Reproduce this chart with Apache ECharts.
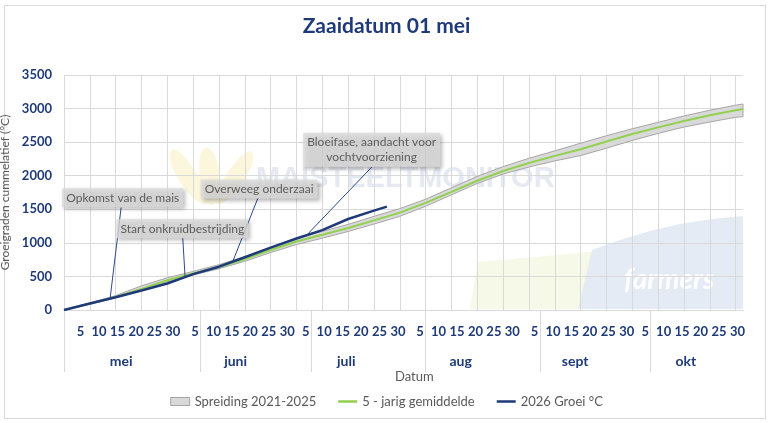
<!DOCTYPE html>
<html><head><meta charset="utf-8">
<script src="https://cdn.jsdelivr.net/npm/echarts@6/dist/echarts.min.js"></script>
<style>
html,body{margin:0;padding:0;background:#fff;}
#frame{position:absolute;left:4px;top:5px;width:762px;height:414px;border:1px solid #d9d9d9;box-sizing:border-box;}
#chart{position:absolute;left:0;top:0;width:773px;height:423px;}
</style></head><body>
<div id="frame"></div>
<div id="chart"></div>
<script>
// ---- data ----
const sampleDays = [0,7,14,21,28,35,42,49,56,63,70,77,84,91,98,105,112,119,126,133,140,147,154,161,168,175,182,184];
const avg5yr     = [0,95,193,315,442,545,641,757,893,1020,1120,1222,1335,1450,1595,1760,1925,2070,2190,2295,2395,2510,2620,2720,2815,2900,2975,2995];
const spreadLow  = [0,85,180,295,420,520,615,725,855,975,1070,1170,1280,1395,1545,1715,1885,2025,2130,2220,2300,2410,2525,2630,2725,2800,2870,2880];
const spreadHigh = [0,105,215,360,480,575,675,795,935,1065,1170,1275,1395,1510,1650,1820,1990,2135,2260,2370,2485,2595,2700,2795,2890,2975,3050,3068];
const growth2026Days = [0,7,14,21,28,35,42,49,56,63,70,77,84,87.5];
const growth2026     = [0,97,190,290,395,535,645,785,930,1065,1190,1355,1480,1539];

const months = ['mei','juni','juli','aug','sept','okt'];
const monthLengths = [31,30,31,31,30,31];
const dayTickNumbers = [5,10,15,20,25,30];
const yMin = 0, yMax = 3500, yInterval = 500;

const annotationTexts  = ['Opkomst van de mais','Start onkruidbestrijding','Overweeg onderzaai','Bloeifase, aandacht voor\nvochtvoorziening'];
const annotationDays   = [12.5, 32.8, 45.7, 65.8];
const annotationValues = [176, 500, 719, 1117];

// ---- layout / derived ----
const calloutOffsets = [[12.6,-100.4],[-2.7,-47.7],[26.5,-72.7],[64.8,-85.2]];   // label centre relative to point (px)
const leaderEnds     = [[11,-90.7],[-2.3,-38.7],[25.3,-63.7],[65,-68]];           // leader end relative to point (px)
const totalDays = monthLengths.reduce((a,b)=>a+b,0);
const monthStarts = [];
{ let s = 0; monthLengths.forEach(l => { monthStarts.push(s); s += l; }); }
const dayTickValues = [], dayTickText = {};
monthStarts.forEach((s, m) => dayTickNumbers.forEach(d => {
  if (d <= monthLengths[m]) { const v = s + d - 0.5; dayTickValues.push(v); dayTickText[v] = String(d); }
}));
const monthLabelValues = [], monthLabelText = {};
monthStarts.forEach((s, m) => { const v = s + Math.floor(monthLengths[m]/2) + 0.5; monthLabelValues.push(v); monthLabelText[v] = months[m]; });
const separatorValues = monthStarts.map((s, i) => i === 0 ? 0 : s + 6);

const pairs = (xs, ys) => xs.map((x, i) => [x, ys[i]]);
const navy = '#1f3a78';
const gridGray = '#d9d9d9';
const font = 'Lato';
const lineIcon = 'path://M0,0h0.01v0.01h-0.01z M0,2.8h20v2.4h-20z M0,7.99h0.01v0.01h-0.01z';
const leaf = '#fbf6dc';

const chart = echarts.init(document.getElementById('chart'), null, {renderer: 'canvas'});
chart.setOption({
  animation: false,
  textStyle: {fontFamily: font},
  title: [
    {text: 'Zaaidatum 01 mei', left: 'center', top: 16, padding: 0,
     textStyle: {fontFamily: font, fontSize: 21, fontWeight: 'bold', color: navy}},
    {text: 'Datum', left: 395, top: 370, padding: 0,
     textStyle: {fontFamily: font, fontSize: 13, fontWeight: 'normal', color: '#595959'}}
  ],
  graphic: [
    {type: 'polygon', z: -10, silent: true, shape: {points: [[478,262],[612,250],[602,309],[470,309]]}, style: {fill: '#f6f9e8'}},
    {type: 'polygon', z: -9, silent: true, shape: {points: [[592,250],[620,240],[650,231],[680,224],[712,219],[743,216],[743,309],[578,309]]}, style: {fill: '#e5ebf5'}},
    {type: 'text', z: -8, silent: true, x: 624, y: 266, style: {text: 'farmers', fill: '#ffffff', font: 'italic bold 28px Lato'}},
    {type: 'polygon', z: -8, silent: true, shape: {points: [[212,205],[200,178],[206,148],[220,175]], smooth: 0.6}, style: {fill: leaf}},
    {type: 'polygon', z: -8, silent: true, shape: {points: [[208,203],[182,185],[172,150],[196,172]], smooth: 0.6}, style: {fill: leaf}},
    {type: 'polygon', z: -8, silent: true, shape: {points: [[216,203],[240,186],[252,152],[228,172]], smooth: 0.6}, style: {fill: leaf}},
    {type: 'text', z: -7, silent: true, x: 256, y: 164, style: {text: 'MAISTEELTMONITOR', fill: '#e5e9f2', font: 'bold 29px "Liberation Sans"'}}
  ],
  legend: {
    top: 390, left: 'center', itemWidth: 19, itemHeight: 8, itemGap: 22,
    textStyle: {color: '#595959', fontSize: 13, fontFamily: font},
    data: [
      {name: 'Spreiding 2021-2025', icon: 'rect', itemStyle: {color: '#d9d9d9', borderColor: '#a6a6a6', borderWidth: 1}},
      {name: '5 - jarig gemiddelde', icon: lineIcon},
      {name: '2026 Groei °C', icon: lineIcon}
    ]
  },
  grid: {left: 64, right: 30, top: 75, bottom: 113, containLabel: false, outerBoundsMode: 'none'},
  xAxis: [
    {type: 'value', min: 0, max: totalDays, interval: 7,
     axisLine: {show: true, lineStyle: {color: gridGray}}, axisTick: {show: false}, axisLabel: {show: false},
     splitLine: {show: true, showMaxLine: false, lineStyle: {color: gridGray, width: 1}}},
    {type: 'value', min: 0, max: totalDays, position: 'bottom',
     axisLine: {show: false}, axisTick: {show: false}, splitLine: {show: false},
     axisLabel: {show: true, customValues: dayTickValues, formatter: v => dayTickText[v] || '', margin: 15,
       color: navy, fontWeight: 'bold', fontSize: 13, fontFamily: font}},
    {type: 'value', min: 0, max: totalDays, position: 'bottom',
     axisLine: {show: false}, splitLine: {show: false},
     axisTick: {show: true, customValues: separatorValues, length: 62, lineStyle: {color: gridGray, width: 1}},
     axisLabel: {show: true, customValues: monthLabelValues, formatter: v => monthLabelText[v] || '', margin: 44,
       color: navy, fontWeight: 'bold', fontSize: 14, fontFamily: font}}
  ],
  yAxis: {
    type: 'value', min: yMin, max: yMax, interval: yInterval,
    name: 'Groeigraden cummelatief (°C)', nameLocation: 'middle', nameGap: 51,
    nameTextStyle: {color: '#595959', fontSize: 12, fontFamily: font},
    axisLine: {show: false}, axisTick: {show: false},
    axisLabel: {color: navy, fontWeight: 'bold', fontSize: 13, margin: 12, fontFamily: font, formatter: v => String(v)},
    splitLine: {lineStyle: {color: gridGray, width: 1}}
  },
  series: [
    {type: 'custom', name: 'Spreiding 2021-2025', z: 2, silent: true,
     data: sampleDays.map((d, i) => [d, spreadLow[i], spreadHigh[i]]),
     encode: {x: 0, y: [1, 2]},
     itemStyle: {color: '#d9d9d9'},
     renderItem: (params, api) => {
       if (params.dataIndex !== 0) return null;
       const top = sampleDays.map((d, i) => api.coord([d, spreadHigh[i]]));
       const bot = sampleDays.map((d, i) => api.coord([d, spreadLow[i]])).reverse();
       return {type: 'polygon', shape: {points: top.concat(bot)},
               style: {fill: '#d9d9d9', stroke: '#a6a6a6', lineWidth: 1}};
     }},
    {type: 'line', name: '5 - jarig gemiddelde', data: pairs(sampleDays, avg5yr), symbol: 'none',
     lineStyle: {color: '#92d050', width: 2}, itemStyle: {color: '#92d050'}, z: 4},
    {type: 'line', name: '2026 Groei °C', data: pairs(growth2026Days, growth2026), symbol: 'none',
     lineStyle: {color: navy, width: 2.5}, itemStyle: {color: navy}, z: 5},
    {type: 'custom', name: 'leaders', z: 6, silent: true,
     data: pairs(annotationDays, annotationValues), encode: {x: 0, y: 1},
     renderItem: (params, api) => {
       const p = api.coord([api.value(0), api.value(1)]);
       const o = leaderEnds[params.dataIndex];
       return {type: 'line', shape: {x1: p[0], y1: p[1], x2: p[0] + o[0], y2: p[1] + o[1]},
               style: {stroke: '#2b4a8c', lineWidth: 1}};
     }},
    {type: 'scatter', name: 'annotations', data: pairs(annotationDays, annotationValues), symbolSize: 0.1,
     itemStyle: {color: navy}, z: 7, silent: true,
     label: {show: true, position: 'inside', formatter: p => annotationTexts[p.dataIndex],
       color: '#404040', fontSize: 12, lineHeight: 15, fontFamily: font, align: 'center',
       backgroundColor: '#d9d9d9', padding: [2, 4],
       shadowColor: 'rgba(0,0,0,0.35)', shadowBlur: 4, shadowOffsetX: 2, shadowOffsetY: 2},
     labelLayout: p => ({dx: calloutOffsets[p.dataIndex][0], dy: calloutOffsets[p.dataIndex][1]})}
  ]
});
</script>
</body></html>
